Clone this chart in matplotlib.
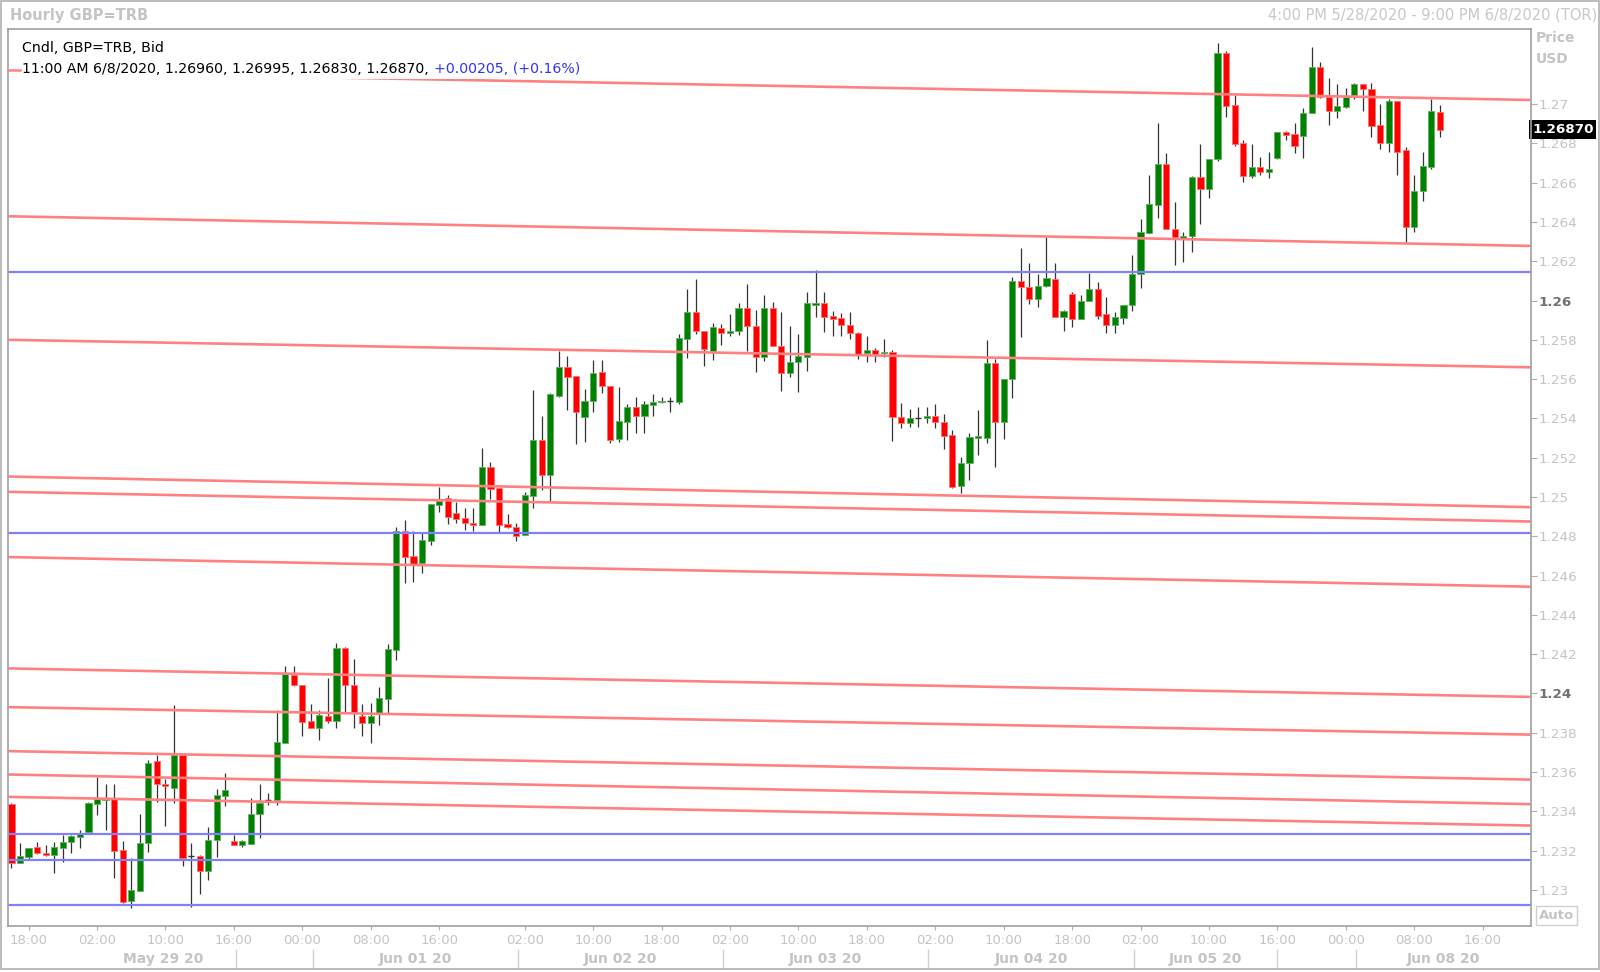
import numpy as np
import matplotlib.pyplot as plt
from matplotlib.patches import Rectangle
from matplotlib.lines import Line2D
from matplotlib.transforms import blended_transform_factory

# hourly GBP bars, 4 PM 5/28 .. 11 AM 6/8 (weekend hours skipped)
opens = [
    1.23435, 1.23138, 1.23169, 1.23216, 1.23189, 1.23179, 1.23213, 1.23242,
    1.23270, 1.23296, 1.23437, 1.23457, 1.23466, 1.23203, 1.22943, 1.22996,
    1.23237, 1.23654, 1.23540, 1.23518, 1.23685, 1.23172, 1.23172, 1.23097,
    1.23252, 1.23479, 1.23249, 1.23226, 1.23232, 1.23384, 1.23457, 1.23457,
    1.23746, 1.24094, 1.24043, 1.23861, 1.23822, 1.23887, 1.23861, 1.24229,
    1.24043, 1.23887, 1.23848, 1.23898, 1.23973, 1.24221, 1.24827, 1.24699,
    1.24662, 1.24778, 1.24959, 1.24993, 1.24917, 1.24893, 1.24869, 1.24855,
    1.25151, 1.25044, 1.24861, 1.24849, 1.24805, 1.25007, 1.25290, 1.25112,
    1.25514, 1.25660, 1.25616, 1.25409, 1.25487, 1.25634, 1.25567, 1.25293,
    1.25380, 1.25460, 1.25414, 1.25468, 1.25482, 1.25489, 1.25485, 1.25804,
    1.25943, 1.25847, 1.25745, 1.25862, 1.25836, 1.25847, 1.25964, 1.25872,
    1.25711, 1.25964, 1.25768, 1.25633, 1.25685, 1.25711, 1.25979, 1.25989,
    1.25921, 1.25909, 1.25875, 1.25833, 1.25735, 1.25748, 1.25731, 1.25736,
    1.25405, 1.25375, 1.25404, 1.25402, 1.25412, 1.25383, 1.25315, 1.25056,
    1.25171, 1.25302, 1.25302, 1.25684, 1.25383, 1.25599, 1.26099, 1.26070,
    1.26008, 1.26074, 1.26110, 1.25918, 1.26033, 1.25904, 1.25999, 1.26057,
    1.25930, 1.25875, 1.25913, 1.25977, 1.26135, 1.26342, 1.26486, 1.26695,
    1.26364, 1.26317, 1.26330, 1.26631, 1.26568, 1.26719, 1.27258, 1.26995,
    1.26804, 1.26636, 1.26682, 1.26656, 1.26727, 1.26856, 1.26846, 1.26839,
    1.26953, 1.27191, 1.27038, 1.26965, 1.26987, 1.27046, 1.27102, 1.27075,
    1.26894, 1.26800, 1.27016, 1.26766, 1.26376, 1.26559, 1.26682, 1.26960,
]
highs = [
    1.23444, 1.23240, 1.23211, 1.23245, 1.23228, 1.23245, 1.23279, 1.23279,
    1.23304, 1.23449, 1.23573, 1.23537, 1.23537, 1.23250, 1.23164, 1.23386,
    1.23661, 1.23686, 1.23562, 1.23941, 1.23685, 1.23237, 1.23177, 1.23321,
    1.23513, 1.23593, 1.23279, 1.23254, 1.23466, 1.23537, 1.23491, 1.23915,
    1.24141, 1.24141, 1.24043, 1.23946, 1.23915, 1.24077, 1.24255, 1.24238,
    1.24173, 1.23944, 1.23949, 1.24031, 1.24251, 1.24845, 1.24883, 1.24828,
    1.24815, 1.24965, 1.25052, 1.25010, 1.24976, 1.24942, 1.24945, 1.25248,
    1.25180, 1.25044, 1.24913, 1.24869, 1.25027, 1.25545, 1.25412, 1.25531,
    1.25745, 1.25718, 1.25616, 1.25548, 1.25697, 1.25697, 1.25567, 1.25561,
    1.25473, 1.25511, 1.25489, 1.25522, 1.25511, 1.25511, 1.25830, 1.26057,
    1.26108, 1.25847, 1.25887, 1.25880, 1.25930, 1.25986, 1.26082, 1.25952,
    1.26028, 1.25994, 1.25940, 1.25872, 1.25830, 1.26042, 1.26155, 1.26042,
    1.25948, 1.25935, 1.25940, 1.25842, 1.25819, 1.25757, 1.25804, 1.25748,
    1.25480, 1.25446, 1.25456, 1.25460, 1.25471, 1.25422, 1.25341, 1.25205,
    1.25324, 1.25443, 1.25799, 1.25701, 1.25599, 1.26118, 1.26266, 1.26189,
    1.26135, 1.26322, 1.26193, 1.25952, 1.26045, 1.26028, 1.26138, 1.26096,
    1.26016, 1.25943, 1.25977, 1.26232, 1.26415, 1.26639, 1.26906, 1.26749,
    1.26503, 1.26351, 1.26636, 1.26797, 1.26721, 1.27309, 1.27270, 1.27046,
    1.26817, 1.26795, 1.26729, 1.26755, 1.26856, 1.26863, 1.26906, 1.26982,
    1.27292, 1.27213, 1.27131, 1.27102, 1.27080, 1.27109, 1.27102, 1.27106,
    1.27001, 1.27024, 1.27016, 1.26783, 1.26639, 1.26758, 1.27024, 1.26995,
]
lows = [
    1.23113, 1.23135, 1.23155, 1.23181, 1.23174, 1.23084, 1.23140, 1.23186,
    1.23215, 1.23291, 1.23381, 1.23304, 1.23058, 1.22935, 1.22909, 1.22996,
    1.23194, 1.23449, 1.23327, 1.23444, 1.23121, 1.22911, 1.22977, 1.23050,
    1.23169, 1.23427, 1.23226, 1.23220, 1.23232, 1.23262, 1.23432, 1.23432,
    1.23746, 1.24038, 1.23785, 1.23822, 1.23762, 1.23848, 1.23822, 1.23898,
    1.23822, 1.23785, 1.23749, 1.23839, 1.23898, 1.24170, 1.24560, 1.24565,
    1.24611, 1.24755, 1.24925, 1.24862, 1.24866, 1.24832, 1.24828, 1.24855,
    1.24988, 1.24823, 1.24840, 1.24777, 1.24805, 1.24942, 1.25035, 1.24981,
    1.25507, 1.25443, 1.25268, 1.25281, 1.25434, 1.25528, 1.25273, 1.25281,
    1.25290, 1.25324, 1.25327, 1.25412, 1.25477, 1.25434, 1.25473, 1.25709,
    1.25830, 1.25667, 1.25697, 1.25774, 1.25819, 1.25825, 1.25745, 1.25634,
    1.25694, 1.25768, 1.25539, 1.25612, 1.25536, 1.25643, 1.25918, 1.25841,
    1.25821, 1.25821, 1.25802, 1.25701, 1.25689, 1.25689, 1.25714, 1.25286,
    1.25349, 1.25358, 1.25358, 1.25375, 1.25349, 1.25242, 1.25044, 1.25018,
    1.25086, 1.25214, 1.25276, 1.25151, 1.25295, 1.25502, 1.25813, 1.25981,
    1.25965, 1.26070, 1.25914, 1.25845, 1.25863, 1.25904, 1.25999, 1.25904,
    1.25833, 1.25833, 1.25880, 1.25948, 1.26062, 1.26342, 1.26419, 1.26364,
    1.26181, 1.26195, 1.26245, 1.26388, 1.26520, 1.26710, 1.26936, 1.26787,
    1.26605, 1.26626, 1.26639, 1.26626, 1.26719, 1.26817, 1.26753, 1.26724,
    1.26953, 1.27033, 1.26894, 1.26931, 1.26978, 1.27026, 1.26965, 1.26834,
    1.26771, 1.26758, 1.26639, 1.26295, 1.26351, 1.26508, 1.26668, 1.26830,
]
closes = [
    1.23138, 1.23172, 1.23211, 1.23186, 1.23179, 1.23216, 1.23245, 1.23275,
    1.23284, 1.23440, 1.23461, 1.23464, 1.23199, 1.22940, 1.22999, 1.23240,
    1.23647, 1.23539, 1.23528, 1.23686, 1.23164, 1.23172, 1.23097, 1.23254,
    1.23481, 1.23508, 1.23226, 1.23249, 1.23386, 1.23444, 1.23457, 1.23751,
    1.24099, 1.24043, 1.23853, 1.23822, 1.23890, 1.23861, 1.24229, 1.24043,
    1.23902, 1.23848, 1.23887, 1.23976, 1.24224, 1.24827, 1.24696, 1.24659,
    1.24781, 1.24962, 1.24981, 1.24900, 1.24888, 1.24866, 1.24859, 1.25151,
    1.25039, 1.24857, 1.24845, 1.24801, 1.25010, 1.25290, 1.25112, 1.25524,
    1.25660, 1.25612, 1.25434, 1.25488, 1.25629, 1.25565, 1.25290, 1.25387,
    1.25460, 1.25414, 1.25472, 1.25485, 1.25490, 1.25489, 1.25808, 1.25943,
    1.25847, 1.25751, 1.25867, 1.25836, 1.25847, 1.25960, 1.25870, 1.25711,
    1.25964, 1.25768, 1.25633, 1.25689, 1.25718, 1.25986, 1.25986, 1.25918,
    1.25908, 1.25875, 1.25833, 1.25726, 1.25748, 1.25728, 1.25740, 1.25405,
    1.25375, 1.25400, 1.25404, 1.25412, 1.25380, 1.25312, 1.25052, 1.25175,
    1.25303, 1.25310, 1.25684, 1.25383, 1.25599, 1.26101, 1.26070, 1.26008,
    1.26076, 1.26113, 1.25918, 1.25947, 1.25904, 1.25999, 1.26057, 1.25921,
    1.25875, 1.25914, 1.25977, 1.26135, 1.26347, 1.26490, 1.26695, 1.26364,
    1.26325, 1.26330, 1.26631, 1.26568, 1.26721, 1.27258, 1.26992, 1.26797,
    1.26636, 1.26682, 1.26656, 1.26668, 1.26856, 1.26843, 1.26787, 1.26956,
    1.27191, 1.27038, 1.26965, 1.26990, 1.27038, 1.27102, 1.27077, 1.26890,
    1.26800, 1.27016, 1.26758, 1.26376, 1.26559, 1.26685, 1.26965, 1.26870,
]

# drawn trend lines: price at left and right edge of the plot
trend_left = [1.27166, 1.26429, 1.25800, 1.25104, 1.25026, 1.24694,
              1.24127, 1.23930, 1.23706, 1.23587, 1.23473]
trend_right = [1.27021, 1.26278, 1.25660, 1.24948, 1.24875, 1.24543,
               1.23982, 1.23790, 1.23561, 1.23436, 1.23327]
blue_levels = [1.26143, 1.24818, 1.23286, 1.23151, 1.22922]

price_ticks = [1.230, 1.232, 1.234, 1.236, 1.238, 1.240, 1.242, 1.244,
               1.246, 1.248, 1.250, 1.252, 1.254, 1.256, 1.258, 1.260,
               1.262, 1.264, 1.266, 1.268, 1.270]
bold_ticks = [1.240, 1.260]

hour_ticks = [2, 10, 18, 26, 34, 42, 50, 60, 68, 76, 84, 92, 100, 108,
              116, 124, 132, 140, 148, 156, 164, 172]
hour_labels = ['18:00', '02:00', '10:00', '16:00', '00:00', '08:00', '16:00',
               '02:00', '10:00', '18:00', '02:00', '10:00', '18:00', '02:00',
               '10:00', '18:00', '02:00', '10:00', '16:00', '00:00', '08:00',
               '16:00']
day_bounds = [9.2, 26.2, 35.2, 59.2, 83.2, 107.2, 131.2, 148.0, 157.2]
day_labels = ['May 29 20', '', 'Jun 01 20', 'Jun 02 20', 'Jun 03 20',
              'Jun 04 20', 'Jun 05 20', '', 'Jun 08 20']

last_change = '+0.00205, (+0.16%)'

plt.rcParams['font.family'] = ['DejaVu Sans']
GRAY = '#c4c4c4'

W, H = 1600, 972
fig = plt.figure(figsize=(W / 100, H / 100), dpi=100)
ax = fig.add_axes([8.2 / W, 1 - 925.5 / H, (1530.6 - 8.2) / W, (925.5 - 28.6) / H])
xmin, xmax = -0.38, 177.6
ax.set_xlim(xmin, xmax)
ax.set_ylim(1.228182, 1.273844)

# candles
x = np.arange(len(opens))
o = np.array(opens)
hi = np.array(highs)
lo = np.array(lows)
c = np.array(closes)
up = c > o
down = c < o
flat = c == o
body = np.maximum(np.abs(c - o), 0.00002)

ax.vlines(x, lo, hi, color='#333333', lw=0.9, zorder=2)
ax.bar(x[up], body[up], bottom=o[up], width=0.72, color='#008000',
       edgecolor='#60b060', lw=0.6, zorder=3)
ax.bar(x[down], body[down], bottom=c[down], width=0.72, color='#ff0000',
       edgecolor='#ff7070', lw=0.6, zorder=3)
ax.hlines(o[flat], x[flat] - 0.36, x[flat] + 0.36, color='#333333', lw=1, zorder=3)

# trend lines and levels
for p0, p1 in zip(trend_left, trend_right):
    ax.plot([xmin, xmax], [p0, p1], color='#ff8080', lw=1.9, zorder=4,
            solid_capstyle='butt')
for lvl in blue_levels:
    ax.axhline(lvl, color='#8080ff', lw=1.6, zorder=4)

for s in ax.spines.values():
    s.set_color('#a0a0a0')
    s.set_linewidth(1.2)
    s.set_zorder(10)

# price axis on the right
ax.yaxis.tick_right()
ax.set_yticks(price_ticks)
ax.set_yticklabels([f"{v:.3f}".rstrip('0') for v in price_ticks])
ax.tick_params(axis='y', length=4, color='#b0b0b0', labelcolor=GRAY,
               labelsize=9.7, pad=2)
for lab, v in zip(ax.get_yticklabels(), price_ticks):
    if round(v, 3) in bold_ticks:
        lab.set_fontweight('bold')
        lab.set_color('#707070')

# time axis
ax.set_xticks(hour_ticks)
ax.set_xticklabels(hour_labels)
ax.tick_params(axis='x', length=3, color='#b0b0b0', labelcolor=GRAY,
               labelsize=9.5, pad=3)

tr = blended_transform_factory(ax.transData, fig.transFigure)
ends = day_bounds + [xmax]
for k, lab in enumerate(day_labels):
    if lab:
        ax.text((ends[k] + ends[k + 1]) / 2, 1 - 959 / H, lab, transform=tr,
                ha='center', va='center', fontsize=10, fontweight='bold',
                color=GRAY, clip_on=False)
ax.vlines(day_bounds[1:], 1 - 969 / H, 1 - 949 / H, transform=tr,
          color='#d0d0d0', lw=1, clip_on=False)

# legend box in the top-left corner hides the start of the top trend line
box_h = 50 / 896.9
ax.add_patch(Rectangle((0, 1 - box_h), 0.38, box_h, transform=ax.transAxes,
                       fc='white', ec='none', zorder=5))
fig.text(22.4 / W, 1 - 47.5 / H, 'Cndl, GBP=TRB, Bid', fontsize=10.2,
         color='black', va='center', zorder=6)
info = (f"11:00 AM 6/8/2020, {opens[-1]:.5f}, {highs[-1]:.5f}, "
        f"{lows[-1]:.5f}, {closes[-1]:.5f}, ")
t1 = fig.text(22.4 / W, 1 - 68.8 / H, info, fontsize=10.2, color='black',
              va='center', zorder=6)
fig.canvas.draw()
bb = t1.get_window_extent()
fig.text(bb.x1 / W, 1 - 68.8 / H, last_change, fontsize=10.2, color='#3333ff',
         va='center', zorder=6)
fig.add_artist(Line2D([8.2 / W, 20.4 / W], [1 - 69.6 / H, 1 - 69.6 / H],
                      color='#ff8080', lw=1.8))

# header and side labels
fig.text(10 / W, 1 - 15.3 / H, 'Hourly GBP=TRB', fontsize=10.5,
         fontweight='bold', color=GRAY, va='center')
fig.text(1597 / W, 1 - 15.3 / H, '4:00 PM 5/28/2020 - 9:00 PM 6/8/2020 (TOR)',
         fontsize=10.5, color='#c8c8c8', va='center', ha='right')
fig.text(1536 / W, 1 - 37.8 / H, 'Price', fontsize=10, fontweight='bold',
         color=GRAY, va='center')
fig.text(1536 / W, 1 - 59.2 / H, 'USD', fontsize=10, fontweight='bold',
         color=GRAY, va='center')

# last price marker
ax.text(1.001, closes[-1], f"{closes[-1]:.5f}",
        transform=blended_transform_factory(ax.transAxes, ax.transData),
        ha='left', va='center', fontsize=9.7, fontweight='bold', color='white',
        bbox=dict(boxstyle='square,pad=0.2', fc='black', ec='none'),
        clip_on=False, zorder=7)

fig.text(1556.5 / W, 1 - 915.5 / H, 'Auto', fontsize=9.5, fontweight='bold',
         color=GRAY, ha='center', va='center',
         bbox=dict(boxstyle='square,pad=0.2', fc='white', ec='#d0d0d0'))

fig.add_artist(Rectangle((0.0008, 3 / H), 0.9984, 1 - 4 / H,
                         transform=fig.transFigure, fill=False,
                         ec='#b0b0b0', lw=1.2))

fig.savefig('out.png', dpi=100)
